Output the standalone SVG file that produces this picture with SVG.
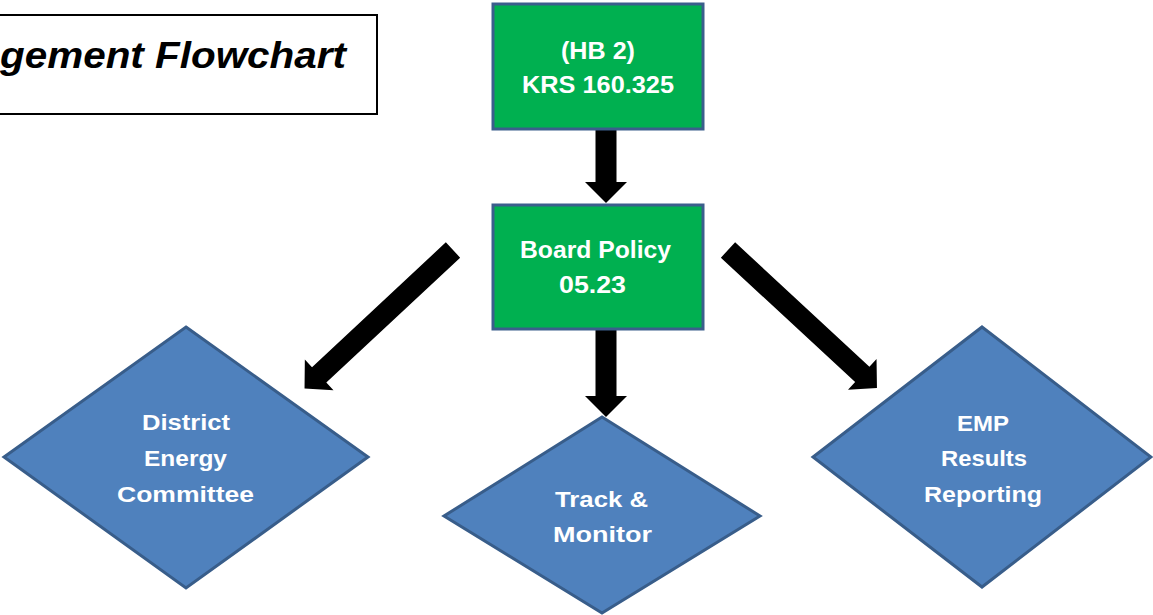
<svg xmlns="http://www.w3.org/2000/svg" width="1153" height="615" viewBox="0 0 1153 615">
  <style>
    .title { font-family: "Liberation Sans", Arial, sans-serif; font-weight: bold; font-style: italic; font-size: 37px; fill: #000; }
    .box { fill: #00B050; stroke: #3B5E8C; stroke-width: 3; }
    .dia { fill: #4F81BD; stroke: #385D8A; stroke-width: 3; stroke-linejoin: miter; }
    .lbl { font-family: "Liberation Sans", Arial, sans-serif; font-weight: bold; fill: #FFFFFF; text-anchor: middle; }
    .bx { font-size: 23px; }
    .dx { font-size: 22px; }
    .arrow { fill: #000; }
  </style>
  <defs>
    <!-- block arrow along +x, tail at origin, length 203 -->
    <path id="diag" d="M0,-10.5 H183 V-21 L203,0 L183,21 V10.5 H0 Z"/>
  </defs>
  <rect width="1153" height="615" fill="#FFFFFF"/>

  <!-- title banner -->
  <g id="title">
    <rect x="-3" y="15" width="380" height="99" fill="#FFFFFF" stroke="#000" stroke-width="2"/>
    <text class="title" x="0" y="68" textLength="346" lengthAdjust="spacingAndGlyphs">gement Flowchart</text>
  </g>

  <!-- connectors -->
  <g id="connectors" class="arrow">
    <polygon points="595.5,129 616.5,129 616.5,182 627,182 606,203 585,182 595.5,182"/>
    <polygon points="595.5,330 616.5,330 616.5,396 627,396 606,417 585,396 595.5,396"/>
    <use href="#diag" transform="translate(453 250) rotate(137)"/>
    <use href="#diag" transform="translate(728 250) rotate(42.8)"/>
  </g>

  <g id="hb2">
    <rect class="box" x="493" y="4" width="210" height="125"/>
    <text class="lbl bx" x="598" y="59" textLength="74" lengthAdjust="spacingAndGlyphs">(HB 2)</text>
    <text class="lbl bx" x="598" y="93" textLength="152" lengthAdjust="spacingAndGlyphs">KRS 160.325</text>
  </g>

  <g id="board-policy">
    <rect class="box" x="493" y="205" width="210" height="124"/>
    <text class="lbl bx" x="595.5" y="258" textLength="151" lengthAdjust="spacingAndGlyphs">Board Policy</text>
    <text class="lbl bx" x="592.5" y="293" textLength="67" lengthAdjust="spacingAndGlyphs">05.23</text>
  </g>

  <g id="district-energy-committee">
    <polygon class="dia" points="186,327 368,457 186,588 4,457"/>
    <text class="lbl dx" x="186" y="430" textLength="88" lengthAdjust="spacingAndGlyphs">District</text>
    <text class="lbl dx" x="185.5" y="466" textLength="83" lengthAdjust="spacingAndGlyphs">Energy</text>
    <text class="lbl dx" x="185.5" y="502" textLength="137" lengthAdjust="spacingAndGlyphs">Committee</text>
  </g>

  <g id="track-monitor">
    <polygon class="dia" points="602,417 760,516 602,613 444,516"/>
    <text class="lbl dx" x="601.5" y="507" textLength="93" lengthAdjust="spacingAndGlyphs">Track &amp;</text>
    <text class="lbl dx" x="602.5" y="542" textLength="99" lengthAdjust="spacingAndGlyphs">Monitor</text>
  </g>

  <g id="emp-results-reporting">
    <polygon class="dia" points="982,327 1151,457 982,587 813,457"/>
    <text class="lbl dx" x="983" y="431" textLength="52" lengthAdjust="spacingAndGlyphs">EMP</text>
    <text class="lbl dx" x="984" y="466" textLength="86" lengthAdjust="spacingAndGlyphs">Results</text>
    <text class="lbl dx" x="983" y="502" textLength="118" lengthAdjust="spacingAndGlyphs">Reporting</text>
  </g>
</svg>
